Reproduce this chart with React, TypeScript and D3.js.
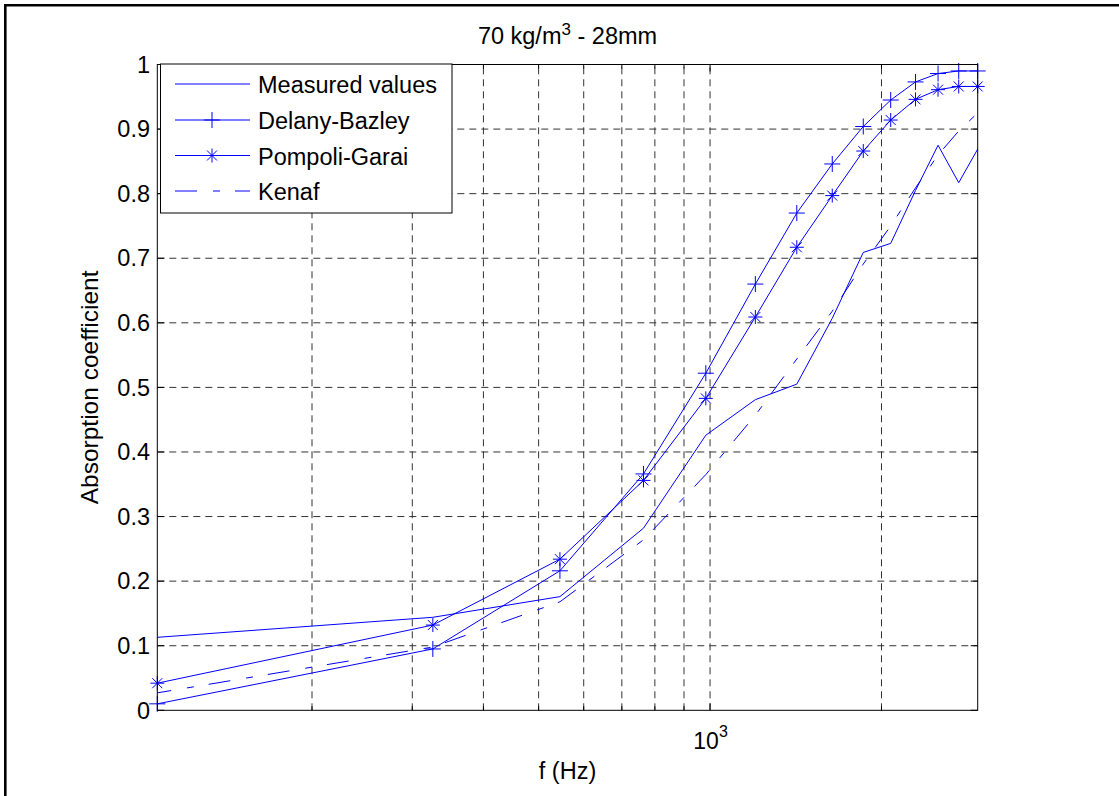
import * as d3 from 'd3';

// frequencies (Hz) of the computed / measured points
const FREQS = [107, 326, 545, 764, 983, 1201, 1420, 1639, 1858, 2076, 2295, 2514, 2733, 2951];

const MEASURED = [0.113, 0.144, 0.176, 0.282, 0.426, 0.481, 0.505, 0.607, 0.709, 0.723, 0.805, 0.875, 0.817, 0.869];
const DELANY = [0.010, 0.095, 0.216, 0.366, 0.522, 0.660, 0.770, 0.846, 0.904, 0.945, 0.973, 0.986, 0.990, 0.990];
const POMPOLI = [0.042, 0.132, 0.234, 0.356, 0.483, 0.609, 0.717, 0.797, 0.866, 0.914, 0.946, 0.961, 0.966, 0.966];
const KENAF = [0.027, 0.098, 0.168, 0.264, 0.365, 0.457, 0.544, 0.618, 0.691, 0.750, 0.809, 0.860, 0.897, 0.925];

const Y_TICKS = [0, 0.1, 0.2, 0.3, 0.4, 0.5, 0.6, 0.7, 0.8, 0.9, 1];
const X_GRID = [200, 300, 400, 500, 600, 700, 800, 900, 1000, 2000];

const SERIES = [
  { name: 'Measured values', values: MEASURED, marker: null, dash: null },
  { name: 'Delany-Bazley', values: DELANY, marker: 'plus', dash: null },
  { name: 'Pompoli-Garai', values: POMPOLI, marker: 'star', dash: null },
  { name: 'Kenaf', values: KENAF, marker: null, dash: '22,16,7,15' },
];

const FONT = '"Liberation Sans", Arial, Helvetica, sans-serif';
const BLUE = '#0000ff';

const markerPath = (type) =>
  type === 'plus'
    ? 'M-8,0H8M0,-8V8'
    : 'M-7,0H7M0,-7V7M-5,-5L5,5M-5,5L5,-5';

export default function App() {
  const width = 1119;
  const height = 796;
  const left = 157.3;
  const right = 977.7;
  const top = 64.5;
  const bottom = 710.3;

  const x = d3.scaleLog().domain([FREQS[0], FREQS[FREQS.length - 1]]).range([left, right]);
  const y = d3.scaleLinear().domain([0, 1]).range([bottom, top]);

  const line = d3
    .line()
    .x((d) => x(d[0]))
    .y((d) => y(d[1]));

  const legendRows = [84, 120, 155.5, 191];

  return (
    <svg
      width={width}
      height={height}
      style={{ position: 'absolute', left: 0, top: 0, background: '#fff' }}
      fontFamily={FONT}
    >
      <rect x={0} y={0} width={width} height={height} fill="#fff" />
      {/* outer figure frame (only top & left visible) */}
      <path d={`M5.3,${height}V5.3H${width}`} fill="none" stroke="#000" strokeWidth={2.6} />

      {/* grid */}
      <g stroke="#333" strokeWidth={1} strokeDasharray="7,5">
        {X_GRID.map((f) => (
          <line key={'gx' + f} x1={x(f)} x2={x(f)} y1={bottom} y2={top} />
        ))}
        {Y_TICKS.slice(1, -1).map((v) => (
          <line key={'gy' + v} x1={left} x2={right} y1={y(v)} y2={y(v)} />
        ))}
      </g>

      {/* series */}
      {SERIES.map((s) => {
        const pts = FREQS.map((f, i) => [f, s.values[i]]);
        return (
          <g key={s.name}>
            <path
              d={line(pts)}
              fill="none"
              stroke={BLUE}
              strokeWidth={1}
              strokeDasharray={s.dash || undefined}
              strokeDashoffset={s.dash ? 8 : undefined}
            />
            {s.marker &&
              pts.map((p, i) => (
                <path
                  key={i}
                  d={markerPath(s.marker)}
                  transform={`translate(${x(p[0])},${y(p[1])})`}
                  fill="none"
                  stroke={BLUE}
                  strokeWidth={1}
                />
              ))}
          </g>
        );
      })}

      {/* axes box + ticks */}
      <rect x={left} y={top} width={right - left} height={bottom - top} fill="none" stroke="#000" strokeWidth={1} />
      <g stroke="#000" strokeWidth={1}>
        {Y_TICKS.map((v) => (
          <g key={'ty' + v}>
            <line x1={left} x2={left + 7} y1={y(v)} y2={y(v)} />
            <line x1={right} x2={right - 7} y1={y(v)} y2={y(v)} />
          </g>
        ))}
        {X_GRID.map((f) => (
          <g key={'tx' + f}>
            <line x1={x(f)} x2={x(f)} y1={bottom} y2={bottom - (f === 1000 ? 7 : 4)} />
            <line x1={x(f)} x2={x(f)} y1={top} y2={top + (f === 1000 ? 7 : 4)} />
          </g>
        ))}
      </g>

      {/* y tick labels */}
      <g fontSize={23.5} fill="#000" textAnchor="end">
        {Y_TICKS.map((v) => (
          <text key={'ly' + v} x={150} y={y(v)} dy="0.35em">
            {d3.format('~g')(v)}
          </text>
        ))}
      </g>

      {/* x tick label 10^3 */}
      <text x={x(1000) - 4} y={749} fontSize={23} textAnchor="middle" fill="#000">
        10
      </text>
      <text x={x(1000) + 9} y={737} fontSize={16} textAnchor="start" fill="#000">
        3
      </text>

      {/* title */}
      <text x={(left + right) / 2} y={44} fontSize={23.5} textAnchor="middle" fill="#000">
        70 kg/m<tspan fontSize={17} dy={-9}>3</tspan>
        <tspan dy={9}> - 28mm</tspan>
      </text>

      {/* axis labels */}
      <text x={(left + right) / 2} y={779} fontSize={23.5} textAnchor="middle" fill="#000">
        f (Hz)
      </text>
      <text
        transform={`translate(98,${(top + bottom) / 2}) rotate(-90)`}
        fontSize={24.5}
        textAnchor="middle"
        fill="#000"
      >
        Absorption coefficient
      </text>

      {/* legend */}
      <rect x={160.5} y={top - 0.5} width={291.5} height={149} fill="#fff" stroke="#000" strokeWidth={1} />
      {SERIES.map((s, i) => (
        <g key={'lg' + s.name}>
          <line
            x1={175}
            x2={250}
            y1={legendRows[i]}
            y2={legendRows[i]}
            stroke={BLUE}
            strokeWidth={1}
            strokeDasharray={s.dash || undefined}
          />
          {s.marker && (
            <path
              d={markerPath(s.marker)}
              transform={`translate(212,${legendRows[i]})`}
              fill="none"
              stroke={BLUE}
              strokeWidth={1}
            />
          )}
          <text x={258} y={legendRows[i] + 1} dy="0.35em" fontSize={23.5} fill="#000">
            {s.name}
          </text>
        </g>
      ))}
    </svg>
  );
}
